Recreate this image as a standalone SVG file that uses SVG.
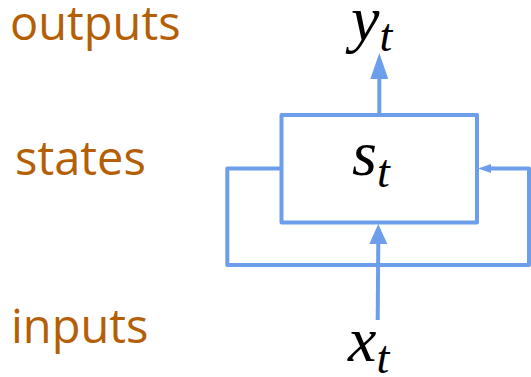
<svg xmlns="http://www.w3.org/2000/svg" width="531" height="377" viewBox="0 0 531 377">
<style>
.lbl{font-family:"Open Sans","Noto Sans",sans-serif;font-size:47px;fill:#b45f06}
.m{font-family:"Liberation Serif","DejaVu Serif",serif;font-style:italic;fill:#000}
.ln{fill:none;stroke:#6d9eeb;stroke-width:4;stroke-linejoin:round}
.ah{fill:#6d9eeb}
</style>
<rect width="531" height="377" fill="#fff"/>
<g id="label-outputs"><text class="lbl" x="10" y="40">outputs</text></g>
<g id="label-states"><text class="lbl" x="15" y="175">states</text></g>
<g id="label-inputs"><text class="lbl" x="11" y="343">inputs</text></g>
<g id="node-state">
<rect class="ln" x="281.5" y="115" width="195.5" height="107.5"/>
<text class="m" x="352" y="175" font-size="64">s<tspan font-size="46" dy="12">t</tspan></text>
</g>
<g id="node-output">
<text class="m" x="351" y="40" font-size="64">y<tspan font-size="46" dy="11">t</tspan></text>
</g>
<g id="node-input">
<text class="m" x="348" y="361" font-size="64">x<tspan font-size="46" dy="12">t</tspan></text>
</g>
<g id="connectors">
<line class="ln" x1="379.3" y1="115" x2="379.3" y2="76"/>
<polygon class="ah" points="379.3,53 370.3,79 388.3,79"/>
<path class="ln" d="M281.5,168.5 H227.3 V265 H529 V168.5 H488"/>
<polygon class="ah" points="478,168.5 491,164 491,173"/>
<line class="ln" x1="377.7" y1="320" x2="378.3" y2="240"/>
<polygon class="ah" points="378.3,224 369.3,244 387.3,244"/>
</g>
</svg>
